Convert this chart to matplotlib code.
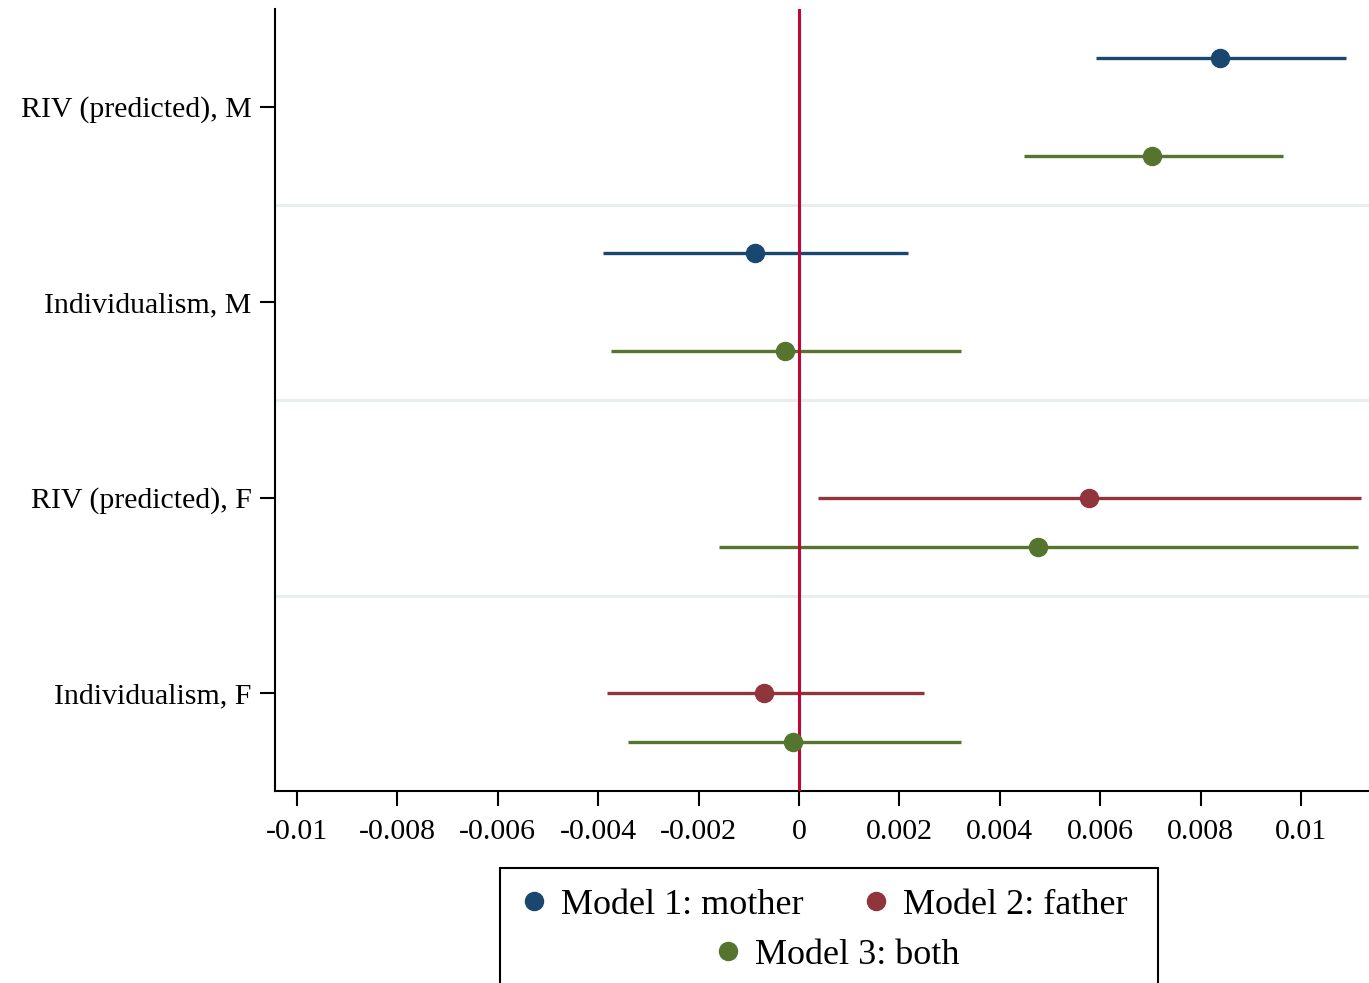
import matplotlib.pyplot as plt
from matplotlib.lines import Line2D
from matplotlib.patches import Rectangle

# coefficient estimates with 95% CIs, rows top to bottom
rows = ["RIV (predicted), M", "Individualism, M", "RIV (predicted), F", "Individualism, F"]

# Model 1: mother (only the M rows)
m1_rows = [0, 1]
m1_coef = [0.00839, -0.00088]
m1_lo = [0.00592, -0.00390]
m1_hi = [0.01090, 0.00217]

# Model 2: father (only the F rows)
m2_rows = [2, 3]
m2_coef = [0.00578, -0.00070]
m2_lo = [0.00038, -0.00382]
m2_hi = [0.01120, 0.00249]

# Model 3: both parents
m3_rows = [0, 1, 2, 3]
m3_coef = [0.00703, -0.00028, 0.00476, -0.00012]
m3_lo = [0.00448, -0.00375, -0.00159, -0.00341]
m3_hi = [0.00964, 0.00323, 0.01114, 0.00323]

xticks = [-0.01, -0.008, -0.006, -0.004, -0.002, 0, 0.002, 0.004, 0.006, 0.008, 0.01]
xtick_labels = ["-0.01", "-0.008", "-0.006", "-0.004", "-0.002", "0",
                "0.002", "0.004", "0.006", "0.008", "0.01"]

plt.rcParams['font.family'] = ['Liberation Serif', 'DejaVu Serif']

fig = plt.figure(figsize=(13.69, 9.83), dpi=100)
ax = fig.add_axes([275 / 1369, 1 - 791 / 983, 1 - 275 / 1369, (791 - 9) / 983])

models = [
    ("Model 1: mother", "#1a476f", m1_rows, m1_coef, m1_lo, m1_hi, -0.25),
    ("Model 2: father", "#90353b", m2_rows, m2_coef, m2_lo, m2_hi, 0.0),
    ("Model 3: both", "#55752f", m3_rows, m3_coef, m3_lo, m3_hi, 0.25),
]

# light separators between coefficient groups
for yy in [1.5, 2.5, 3.5]:
    ax.axhline(yy, color="#e6eef0", lw=2.2, zorder=0)

handles = []
for name, col, r, c, lo, hi, off in models:
    ys = [i + 1 + off for i in r]
    ax.hlines(ys, lo, hi, color=col, lw=2.4, zorder=2)
    ax.plot(c, ys, "o", color=col, ms=13, zorder=4, ls="none")
    handles.append(Line2D([], [], marker="o", color=col, ls="none", ms=13))

ax.axvline(0, color="#c10534", lw=2.2, zorder=3)

ax.set_xlim(-0.010438, 0.011355)
ax.set_ylim(4.5, 0.5)
ax.set_yticks([1, 2, 3, 4])
ax.set_yticklabels(rows, fontsize=21.5)
ax.set_xticks(xticks)
ax.set_xticklabels(xtick_labels, fontsize=21.5)
ax.tick_params(axis="both", length=11, width=1.5, color="black", pad=6)
ax.tick_params(axis="x", pad=9)

for s in ["top", "right"]:
    ax.spines[s].set_visible(False)
for s in ["left", "bottom"]:
    ax.spines[s].set_linewidth(1.5)

# legend frame running off the bottom edge
fig.add_artist(Rectangle((500 / 1369, -0.05), (1158 - 500) / 1369, 0.05 + 1 - 868 / 983,
                         transform=fig.transFigure, fill=False, lw=1.5, ec="black"))
fig.legend(handles[:2], [m[0] for m in models[:2]], loc="center",
           bbox_to_anchor=(820 / 1369, 1 - 905 / 983), ncol=2, frameon=False,
           fontsize=26, handletextpad=0.15, columnspacing=1.4, handlelength=1.2,
           borderpad=0, borderaxespad=0)
fig.legend(handles[2:], [models[2][0]], loc="center",
           bbox_to_anchor=(833 / 1369, 1 - 955 / 983), frameon=False,
           fontsize=26, handletextpad=0.15, handlelength=1.2,
           borderpad=0, borderaxespad=0)

fig.savefig("out.png", dpi=100)
